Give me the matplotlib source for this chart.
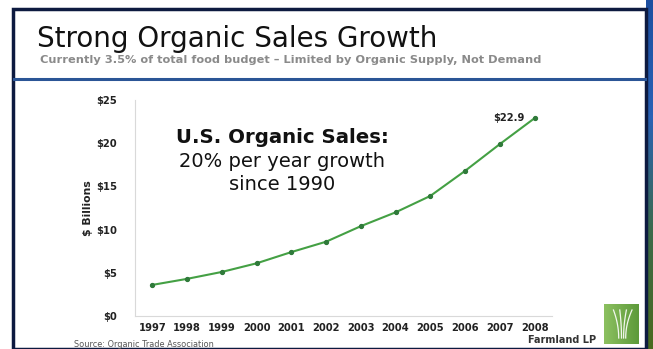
import matplotlib
matplotlib.use("Agg")
import matplotlib.pyplot as plt
from matplotlib.patches import Rectangle
from matplotlib.colors import LinearSegmentedColormap
import numpy as np

W, H = 653, 349

years = [1997, 1998, 1999, 2000, 2001, 2002, 2003, 2004, 2005, 2006, 2007, 2008]
sales = [3.6, 4.3, 5.1, 6.1, 7.4, 8.6, 10.4, 12.0, 13.9, 16.8, 19.9, 22.9]
ytick_vals = [0, 5, 10, 15, 20, 25]
ytick_labels = ["$0", "$5", "$10", "$15", "$20", "$25"]


def fx(px):
    return px / W


def fy(py):
    return 1 - py / H


fig = plt.figure(figsize=(W / 100, H / 100), dpi=100)
fig.patch.set_facecolor("white")

# photo strip at the right edge (blue top, green bottom)
strip = fig.add_axes([fx(646), 0, fx(W - 646), 1])
grad = np.linspace(0, 1, 100).reshape(-1, 1)
cm = LinearSegmentedColormap.from_list("s", ["#1d4fa0", "#2a62b5", "#3c6a4a", "#4a6a1e"])
strip.imshow(grad, aspect="auto", cmap=cm)
strip.axis("off")

# slide frame
navy = "#0d1a40"
fig.add_artist(Rectangle((fx(13), fy(349)), fx(633), fy(9) - fy(349),
                         transform=fig.transFigure, fill=False, ec=navy, lw=2.5))
fig.add_artist(plt.Line2D([fx(14), fx(645)], [fy(79), fy(79)],
                          transform=fig.transFigure, color="#2b5596", lw=2.2))

# header
fig.text(fx(37), fy(47), "Strong Organic Sales Growth", fontsize=20,
         family="DejaVu Sans", color="#111111", va="baseline")
fig.text(fx(40), fy(63), "Currently 3.5% of total food budget \u2013 Limited by Organic Supply, Not Demand",
         fontsize=8.2, family="DejaVu Sans", weight="bold", color="#8a8a8a", va="baseline")

# chart
ax = fig.add_axes([fx(135), fy(316), fx(552) - fx(135), fy(100) - fy(316)])
ax.plot(years, sales, color="#44a044", lw=1.5, marker="o", ms=2.8,
        mfc="#2f7a3a", mec="#2f7a3a", solid_capstyle="round")
ax.set_xlim(1996.5, 2008.5)
ax.set_ylim(0, 25)
ax.set_xticks(years)
ax.set_xticklabels([str(y) for y in years], fontsize=7.2, weight="bold", color="#222222")
ax.set_yticks(ytick_vals)
ax.set_yticklabels(ytick_labels, fontsize=7.2, weight="bold", color="#222222")
ax.tick_params(length=0, pad=13)
ax.tick_params(axis="x", pad=5)
for s in ["top", "right"]:
    ax.spines[s].set_visible(False)
for s in ["left", "bottom"]:
    ax.spines[s].set_color("#d9d9d9")
    ax.spines[s].set_linewidth(0.8)
ax.set_ylabel("$ Billions", fontsize=7.8, weight="bold", color="#222222", labelpad=2)
ax.patch.set_alpha(0)

ax.annotate("$%.1f" % sales[-1], (years[-1], sales[-1]), xytext=(-7, 0),
            textcoords="offset points", ha="right", va="center",
            fontsize=7.2, weight="bold", color="#222222")

fig.text(fx(282), fy(143), "U.S. Organic Sales:", fontsize=14.2, family="DejaVu Sans",
         weight="bold", ha="center", va="baseline", color="#111111")
fig.text(fx(282), fy(167), "20% per year growth", fontsize=14, family="DejaVu Sans",
         ha="center", va="baseline", color="#111111")
fig.text(fx(282), fy(190), "since 1990", fontsize=14, family="DejaVu Sans",
         ha="center", va="baseline", color="#111111")

# footer
fig.text(fx(74), fy(347), "Source: Organic Trade Association", fontsize=5.9,
         family="DejaVu Sans", color="#555555", va="baseline")
fig.text(fx(596), fy(343), "Farmland LP", fontsize=7, weight="bold",
         family="DejaVu Sans", ha="right", va="baseline", color="#333333")

# logo
logo = fig.add_axes([fx(604), fy(344), fx(35), fy(304) - fy(344)])
lg = np.linspace(0, 1, 50).reshape(1, -1) * np.ones((50, 1))
logo.imshow(lg, aspect="auto", cmap=LinearSegmentedColormap.from_list("g", ["#8cc060", "#5d9a3a"]),
            extent=(0, 1, 0, 1))
t = np.linspace(0, 1, 20)
for x0, bend in [(0.42, -0.15), (0.5, -0.05), (0.56, 0.08), (0.62, 0.18)]:
    logo.plot(x0 + bend * t ** 2, 0.15 + 0.7 * t, color="white", lw=0.9, alpha=0.9)
logo.set_xlim(0, 1)
logo.set_ylim(0, 1)
logo.axis("off")

fig.savefig("out.png", dpi=100)
